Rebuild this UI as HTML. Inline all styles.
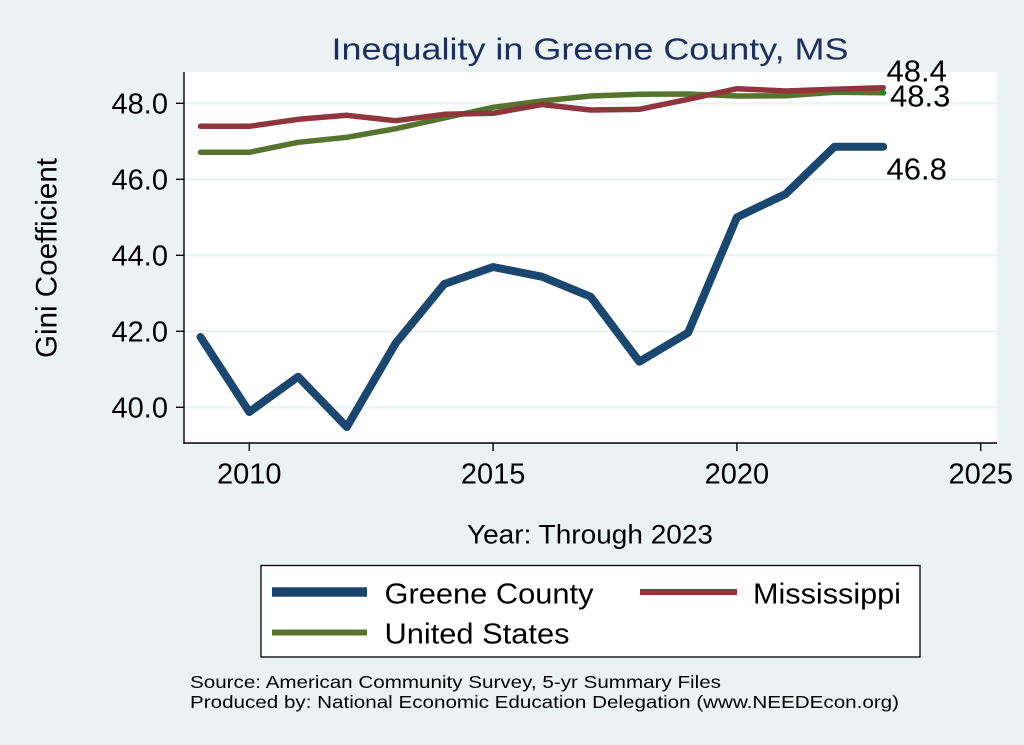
<!DOCTYPE html>
<html>
<head>
<meta charset="utf-8">
<style>
  html,body{margin:0;padding:0;background:#eaf2f3;}
  svg{display:block;}
  text{font-family:"Liberation Sans",Arial,sans-serif;}
</style>
</head>
<body>
<svg width="1024" height="745" viewBox="0 0 1024 745" xmlns="http://www.w3.org/2000/svg">
  <rect x="0" y="0" width="1024" height="745" fill="#eaf2f3"/>
  <!-- plot region -->
  <rect x="184" y="72" width="813" height="371" fill="#ffffff"/>
  <!-- gridlines -->
  <g stroke="#eaf2f3" stroke-width="2.2">
    <line x1="184" y1="103.3" x2="997" y2="103.3"/>
    <line x1="184" y1="179.3" x2="997" y2="179.3"/>
    <line x1="184" y1="255.3" x2="997" y2="255.3"/>
    <line x1="184" y1="331.3" x2="997" y2="331.3"/>
    <line x1="184" y1="407.3" x2="997" y2="407.3"/>
  </g>
  <!-- axes -->
  <g stroke="#000" stroke-width="1.4">
    <line x1="184" y1="72" x2="184" y2="443.7"/>
    <line x1="183.3" y1="443" x2="997" y2="443"/>
    <line x1="176" y1="103.3" x2="184" y2="103.3"/>
    <line x1="176" y1="179.3" x2="184" y2="179.3"/>
    <line x1="176" y1="255.3" x2="184" y2="255.3"/>
    <line x1="176" y1="331.3" x2="184" y2="331.3"/>
    <line x1="176" y1="407.3" x2="184" y2="407.3"/>
    <line x1="249.3" y1="443" x2="249.3" y2="451"/>
    <line x1="493.1" y1="443" x2="493.1" y2="451"/>
    <line x1="736.9" y1="443" x2="736.9" y2="451"/>
    <line x1="980.7" y1="443" x2="980.7" y2="451"/>
  </g>
  <!-- y tick labels -->
  <g font-size="29" fill="#000" text-anchor="end">
    <text x="168" y="113.5">48.0</text>
    <text x="168" y="189.5">46.0</text>
    <text x="168" y="265.5">44.0</text>
    <text x="168" y="341.5">42.0</text>
    <text x="168" y="417.5">40.0</text>
  </g>
  <!-- x tick labels -->
  <g font-size="29" fill="#000" text-anchor="middle">
    <text x="249.3" y="483.5">2010</text>
    <text x="493.1" y="483.5">2015</text>
    <text x="736.9" y="483.5">2020</text>
    <text x="980.7" y="483.5">2025</text>
  </g>
  <!-- series -->
  <g fill="none" stroke-linecap="round" stroke-linejoin="round">
    <polyline stroke="#55752f" stroke-width="5.5" points="200.5,152.3 249.3,152.3 298.1,142.3 346.8,137.3 395.6,128.7 444.3,118 493.1,107.3 541.9,101 590.6,96 639.4,94.3 688.1,94 736.9,96 785.7,95.7 834.4,92.3 883.2,92.7"/>
    <polyline stroke="#90353b" stroke-width="5.5" points="200.5,126.3 249.3,126.3 298.1,119.3 346.8,115.3 395.6,120.7 444.3,114.3 493.1,113.3 541.9,104.5 590.6,110 639.4,109.3 688.1,99.3 736.9,88.7 785.7,91 834.4,89.3 883.2,87.7"/>
    <polyline stroke="#1a476f" stroke-width="8" points="200.5,337 249.3,412 298.1,376.7 346.8,427 395.6,343.3 444.3,284 493.1,267 541.9,276.7 590.6,296.7 639.4,361.7 688.1,332.7 736.9,217.3 785.7,194 834.4,146.7 883.2,146.7"/>
  </g>
  <circle cx="883.2" cy="92.7" r="3" fill="#109010"/>
  <!-- end labels -->
  <g font-size="31" fill="#000">
    <text x="886.5" y="81.5">48.4</text>
    <text x="890" y="106.5">48.3</text>
    <text x="886.5" y="179.5">46.8</text>
  </g>
  <!-- title -->
  <text x="590" y="59.5" font-size="31" fill="#1c2d5e" text-anchor="middle" textLength="517" lengthAdjust="spacingAndGlyphs">Inequality in Greene County, MS</text>
  <!-- y axis title -->
  <text transform="translate(56.5,258) rotate(-90)" font-size="30" fill="#000" text-anchor="middle" textLength="200" lengthAdjust="spacingAndGlyphs">Gini Coefficient</text>
  <!-- x axis title -->
  <text x="590" y="543.5" font-size="27" fill="#000" text-anchor="middle" textLength="246" lengthAdjust="spacingAndGlyphs">Year: Through 2023</text>
  <!-- legend -->
  <rect x="261" y="565.5" width="659" height="91.5" fill="#ffffff" stroke="#000" stroke-width="1.3"/>
  <line x1="272" y1="592" x2="367" y2="592" stroke="#1a476f" stroke-width="9.5"/>
  <line x1="640" y1="592" x2="737" y2="592" stroke="#90353b" stroke-width="6"/>
  <line x1="272" y1="632.5" x2="367" y2="632.5" stroke="#55752f" stroke-width="6"/>
  <g font-size="28.5" fill="#000">
    <text x="384.5" y="603.5" textLength="209" lengthAdjust="spacingAndGlyphs">Greene County</text>
    <text x="753" y="603.5" textLength="148" lengthAdjust="spacingAndGlyphs">Mississippi</text>
    <text x="384.5" y="643.5" textLength="185" lengthAdjust="spacingAndGlyphs">United States</text>
  </g>
  <!-- notes -->
  <g font-size="17.5" fill="#000">
    <text x="190" y="688" textLength="531" lengthAdjust="spacingAndGlyphs">Source: American Community Survey, 5-yr Summary Files</text>
    <text x="190" y="708" textLength="709" lengthAdjust="spacingAndGlyphs">Produced by: National Economic Education Delegation (www.NEEDEcon.org)</text>
  </g>
</svg>
</body>
</html>
